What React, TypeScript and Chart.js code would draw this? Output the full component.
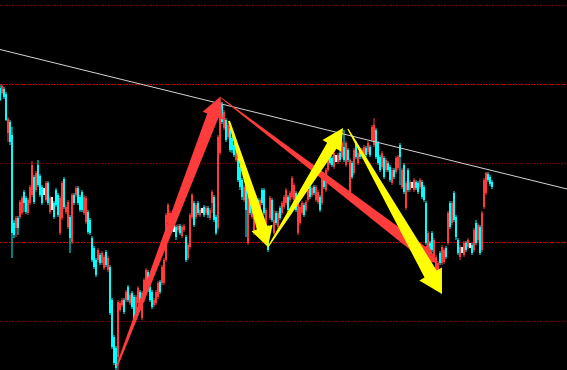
import React, { useEffect, useRef } from 'react';
import { Chart, registerables } from 'chart.js';

Chart.register(...registerables);

// Candles: one per bar, values on the chart's own (inverted) level scale
const opens = [88,93,89,94,133,122,135,223,228,218,217,213,192,198,213,203,195,177,190,165,176,187,191,200,183,212,203,203,190,195,233,218,179,212,227,217,242,195,195,188,197,192,213,222,212,220,238,248,260,260,255,263,268,252,270,267,300,337,348,357,310,305,300,300,287,303,293,297,317,303,292,318,300,293,272,287,292,305,303,297,282,283,283,260,223,220,223,228,227,230,226,236,230,237,258,247,217,203,217,203,215,211,207,213,208,218,203,197,217,228,153,105,128,120,137,128,138,145,160,158,167,180,200,187,243,197,217,233,213,200,220,190,190,233,227,218,200,233,213,227,208,213,207,203,197,200,197,200,193,233,223,213,205,210,200,187,195,187,200,202,197,203,175,190,170,157,158,167,160,162,153,157,147,165,150,192,163,173,143,163,150,157,157,148,152,147,140,145,130,143,157,167,158,170,163,167,183,170,172,168,145,187,165,208,170,190,185,190,182,183,187,182,187,203,267,243,233,257,273,277,253,263,262,248,243,203,223,193,217,240,257,250,255,243,247,245,245,250,223,240,227,250,207,193,174,177,182];
const closes = [100,86,97,120,119,142,233,235,218,228,202,198,203,212,200,187,165,202,173,185,195,203,191,183,203,198,203,217,205,215,198,183,207,207,202,238,195,203,188,203,210,210,197,198,232,233,260,267,275,250,263,253,257,265,258,313,347,363,368,302,303,300,312,292,300,295,307,323,297,288,305,293,280,270,290,300,307,300,292,283,292,267,260,215,205,213,230,228,237,226,233,227,226,260,245,215,195,225,205,213,210,211,215,208,215,210,192,220,233,137,104,122,112,140,125,150,150,155,148,180,187,197,187,210,195,213,200,210,197,215,200,203,213,210,250,198,220,220,223,213,218,203,197,190,210,193,178,185,210,203,207,203,215,202,190,197,188,193,187,192,210,177,187,170,160,163,165,153,160,155,160,143,160,143,160,160,177,150,157,153,157,150,147,155,143,155,127,125,157,163,170,153,177,160,170,180,170,177,158,157,157,170,192,183,190,182,185,180,188,192,180,197,200,243,233,260,250,240,257,263,263,247,250,257,213,227,203,220,237,253,247,250,243,250,240,245,253,230,243,225,253,213,180,173,180,184,187];
const highs = [85,84,87,92,117,120,127,220,216,216,200,196,190,196,198,185,161,175,171,160,174,185,188,181,181,196,197,201,188,193,196,181,177,205,200,215,193,193,186,186,195,190,195,196,210,218,236,246,258,248,253,251,255,250,256,265,298,335,346,300,301,298,298,290,285,293,291,295,295,286,290,291,278,268,270,285,290,298,290,281,280,265,258,213,203,211,221,225,225,224,224,225,224,235,243,213,193,201,203,201,208,208,205,206,206,208,190,195,215,135,98,102,110,118,123,126,136,143,146,156,165,178,185,185,193,195,198,208,195,198,198,188,188,208,225,196,198,210,211,211,206,201,195,188,195,191,176,183,191,201,205,201,203,200,188,185,186,185,185,190,195,175,173,168,158,155,156,151,155,153,151,141,130,141,148,158,161,148,141,151,148,148,145,146,141,145,125,118,128,141,155,151,156,158,161,165,168,168,156,155,143,168,163,181,168,180,182,178,180,181,178,180,185,201,231,241,231,238,255,261,251,245,248,246,211,201,201,191,215,238,245,247,241,241,238,243,243,228,220,223,225,211,178,172,172,175,180];
const lows = [101,95,99,121,142,145,258,238,237,235,219,215,212,214,215,205,197,204,192,187,197,205,195,202,205,214,210,219,207,217,235,220,209,214,229,253,244,205,197,205,212,212,215,224,234,235,262,269,277,262,265,265,270,267,272,315,349,365,370,370,312,307,314,302,302,305,309,325,319,305,307,320,302,295,292,302,309,307,305,299,294,285,285,262,225,222,232,232,240,232,235,238,232,262,260,249,219,227,219,215,217,213,217,215,218,220,213,222,235,230,155,124,130,142,139,152,153,157,162,182,190,200,202,237,245,215,219,235,215,217,222,205,215,235,252,220,222,235,225,229,220,215,209,205,212,202,199,202,212,235,225,215,217,212,202,199,197,195,202,204,212,205,189,192,172,165,167,169,162,164,162,159,162,167,162,194,179,175,159,165,159,159,159,157,154,157,142,147,159,165,172,169,179,172,172,182,185,179,174,170,185,189,194,210,192,192,188,192,190,194,189,199,202,245,269,262,252,259,275,279,265,265,264,259,245,229,225,222,240,255,260,253,257,252,249,248,255,252,245,242,255,252,209,195,182,186,189];

// Reference grid levels
const gridLevels = [5, 84, 163, 242, 321];
const brightLevels = [84, 242];

// Resistance trend line
const trendX = [0, 283.5];
const trendY = [49.5, 189];

// Arrows (from -> to), same units as the data
const arrowFromX = [58.5, 110, 114.5, 134, 174];
const arrowFromY = [366, 97, 121, 247, 129];
const arrowToX = [110, 218.5, 134, 171.5, 221];
const arrowToY = [97, 263, 247, 128, 294];

const RED = '#ff3838';
const CYAN = '#00ffff';
const WHITE = '#ffffff';
const ARROW_COLORS = ['#ff3c3c', '#ff3c3c', '#ffff00', '#ffff00', '#ffff00'];
// style: start half width, end half width, head half width, head length (px)
const ARROW_SHAPES = [
  [1, 6, 11, 20],
  [0.4, 6, 10, 19],
  [1, 5.5, 11, 20],
  [0.6, 5.5, 11, 21],
  [0.6, 7, 13, 23],
];

function candleColor(i: number) {
  const o = opens[i], c = closes[i];
  if (o === c) return WHITE;
  return c < o ? RED : CYAN;
}

const arrowPlugin = {
  id: 'arrows',
  afterDatasetsDraw(chart: any) {
    const { ctx, scales } = chart;
    const xs = scales.x, ys = scales.y;
    ctx.save();
    for (let k = 0; k < arrowFromX.length; k++) {
      const x0 = xs.getPixelForValue(arrowFromX[k]);
      const y0 = ys.getPixelForValue(arrowFromY[k]);
      const x1 = xs.getPixelForValue(arrowToX[k]);
      const y1 = ys.getPixelForValue(arrowToY[k]);
      const [w0, w1, hw, hl] = ARROW_SHAPES[k];
      const len = Math.hypot(x1 - x0, y1 - y0);
      const dx = (x1 - x0) / len, dy = (y1 - y0) / len;
      const nx = -dy, ny = dx;
      const bx = x1 - dx * hl, by = y1 - dy * hl;
      ctx.beginPath();
      ctx.moveTo(x0 + nx * w0, y0 + ny * w0);
      ctx.lineTo(bx + nx * w1, by + ny * w1);
      ctx.lineTo(bx + nx * hw, by + ny * hw);
      ctx.lineTo(x1, y1);
      ctx.lineTo(bx - nx * hw, by - ny * hw);
      ctx.lineTo(bx - nx * w1, by - ny * w1);
      ctx.lineTo(x0 - nx * w0, y0 - ny * w0);
      ctx.closePath();
      ctx.fillStyle = ARROW_COLORS[k];
      ctx.fill();
    }
    ctx.restore();
  },
};

export default function App() {
  const ref = useRef<HTMLCanvasElement | null>(null);
  useEffect(() => {
    if (!ref.current) return;
    const colors = opens.map((_, i) => candleColor(i));
    const chart = new Chart(ref.current, {
      type: 'bar',
      data: {
        datasets: [
          {
            type: 'line',
            data: trendX.map((x, i) => ({ x, y: trendY[i] })),
            borderColor: '#d2d2d2',
            borderWidth: 1,
            pointRadius: 0,
            order: 0,
          } as any,
          {
            data: opens.map((_, i) => ({ x: i, y: [highs[i], lows[i]] })),
            backgroundColor: colors,
            barThickness: 1,
            grouped: false,
            inflateAmount: 0,
            order: 2,
          } as any,
          {
            data: opens.map((o, i) => ({
              x: i,
              y: o === closes[i] ? [highs[i], lows[i]] : [o, closes[i]],
            })),
            backgroundColor: colors,
            barThickness: 2,
            grouped: false,
            inflateAmount: 0,
            order: 1,
          } as any,
        ],
      },
      options: {
        responsive: false,
        animation: false,
        devicePixelRatio: 1,
        layout: { padding: 0 },
        plugins: { legend: { display: false }, tooltip: { enabled: false } },
        scales: {
          x: {
            type: 'linear',
            min: 0,
            max: 283.5,
            offset: false,
            display: false,
          },
          y: {
            type: 'linear',
            reverse: true,
            min: 0,
            max: 370,
            afterBuildTicks: (s: any) => {
              s.ticks = gridLevels.map((v) => ({ value: v }));
            },
            afterFit: (s: any) => {
              s.width = 0;
            },
            ticks: { display: false },
            grid: {
              drawTicks: false,
              tickLength: 0,
              lineWidth: 1,
              color: (c: any) =>
                brightLevels.includes(c.tick?.value) ? '#c00000' : '#700000',
            },
            border: { display: false, dash: [2, 1] },
          },
        },
      } as any,
      plugins: [arrowPlugin],
    });
    return () => chart.destroy();
  }, []);
  return (
    <div style={{ position: 'fixed', left: 0, top: 0, width: 567, height: 370, background: '#000' }}>
      <canvas ref={ref} width={567} height={370} style={{ display: 'block', background: '#000' }} />
    </div>
  );
}
